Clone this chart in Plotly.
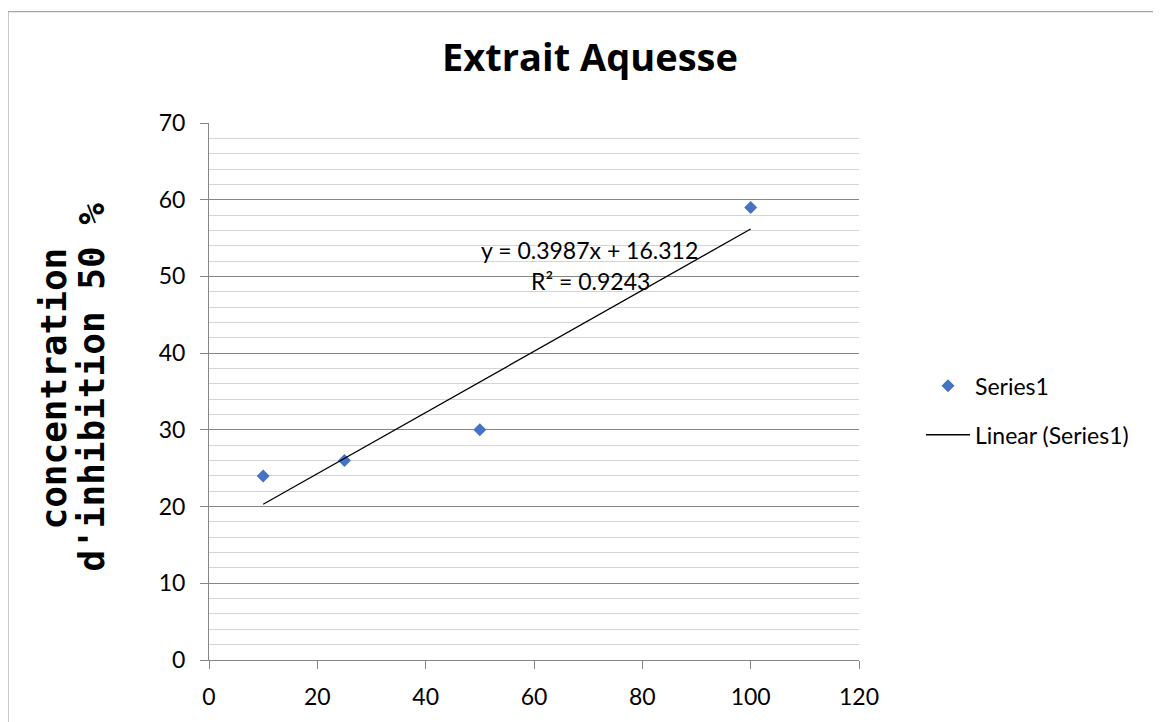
import numpy as np
import plotly.graph_objects as go

# ---- data ----
concentration = [10, 25, 50, 100]
inhibition = [24, 26, 30, 59]
series_name = "Series1"
trend_name = "Linear (Series1)"
title_text = "Extrait Aquesse"
y_title_lines = ["concentration", "d'inhibition 50 %"]
x_ticks = [0, 20, 40, 60, 80, 100, 120]
y_ticks = [0, 10, 20, 30, 40, 50, 60, 70]

# linear trendline (least squares) from the data
slope, intercept = np.polyfit(concentration, inhibition, 1)
pred = np.polyval([slope, intercept], concentration)
ss_res = np.sum((np.array(inhibition) - pred) ** 2)
ss_tot = np.sum((np.array(inhibition) - np.mean(inhibition)) ** 2)
r2 = 1 - ss_res / ss_tot
trend_x = [min(concentration), max(concentration)]
trend_y = list(np.polyval([slope, intercept], trend_x))
eq_text = f"y = {slope:.4f}x + {intercept:.3f}"
r2_text = f"R² = {r2:.4f}"

# page has an 8px body margin: work in page pixels, convert to figure pixels
OFF = 8
W, H = 1161 - OFF, 722 - OFF
PL, PR, PT, PB = 209, 859, 123, 663  # plot area in page pixels
ML, MT = PL - OFF, PT - OFF
MR = W - (PR - OFF)
MB = H - (PB - OFF)
PW = PR - PL
PH = PB - PT


def px_x(p):
    return (p - PL) / PW


def px_y(p):
    return (PB - p) / PH


fig = go.Figure()
fig.add_trace(go.Scatter(
    x=concentration, y=inhibition, mode="markers", name=series_name,
    marker=dict(symbol="diamond", size=10, color="#4472C4"),
    legendgroup="a",
))
fig.add_trace(go.Scatter(
    x=trend_x, y=trend_y, mode="lines", name=trend_name,
    line=dict(color="black", width=1.3),
    legendgroup="b",
))

axis_font = dict(family="Lato", size=23, color="black")

fig.update_layout(
    width=W, height=H,
    margin=dict(l=ML, r=MR, t=MT, b=MB),
    paper_bgcolor="white", plot_bgcolor="white",
    title=dict(
        text=title_text, x=(590 - OFF) / W, xref="container", xanchor="center",
        y=1 - (58 - OFF) / H, yref="container", yanchor="middle",
        font=dict(family="Open Sans", size=38, color="black", weight="bold"),
    ),
    xaxis=dict(
        range=[0, 120], tickvals=x_ticks, showgrid=False, zeroline=False,
        showline=True, linecolor="#868686", linewidth=1,
        ticks="outside", ticklen=8, tickcolor="#868686",
        tickfont=axis_font, ticklabelstandoff=8,
    ),
    yaxis=dict(
        range=[0, 70], tickvals=y_ticks, showgrid=True, gridcolor="#868686",
        gridwidth=1, zeroline=False,
        showline=True, linecolor="#868686", linewidth=1,
        ticks="outside", ticklen=8, tickcolor="#868686",
        tickfont=axis_font, ticklabelstandoff=10,
        minor=dict(dtick=2, showgrid=True, gridcolor="#d4d4d4", gridwidth=1.2),
    ),
    legend=dict(
        x=px_x(921), y=px_y(412), xanchor="left", yanchor="middle",
        font=dict(family="Lato", size=23, color="black"),
        traceorder="grouped", tracegroupgap=16, bgcolor="rgba(0,0,0,0)",
        itemwidth=44,
    ),
    showlegend=True,
)

# equation annotations
fig.add_annotation(x=70.3, y=53.5, text=eq_text, showarrow=False,
                   font=dict(family="Lato", size=23, color="black"))
fig.add_annotation(x=70.5, y=49.4, text=r2_text, showarrow=False,
                   font=dict(family="Lato", size=23, color="black"))

# y-axis title (two rotated lines)
ytitle_font = dict(family="DejaVu Sans Mono", size=36, color="black", weight="bold")
fig.add_annotation(x=px_x(54), y=px_y(390), xref="paper", yref="paper",
                   text=y_title_lines[0], textangle=-90, showarrow=False,
                   xanchor="center", yanchor="middle", font=ytitle_font)
fig.add_annotation(x=px_x(92), y=px_y(389), xref="paper", yref="paper",
                   text=y_title_lines[1], textangle=-90, showarrow=False,
                   xanchor="center", yanchor="middle", font=ytitle_font)

# chart-area border
fig.add_shape(type="rect", xref="paper", yref="paper",
              x0=px_x(8), x1=px_x(1175), y0=px_y(735), y1=px_y(11),
              line=dict(color="#a6a6a6", width=1.2), fillcolor="rgba(0,0,0,0)",
              layer="below")

fig.write_html("out.html")
